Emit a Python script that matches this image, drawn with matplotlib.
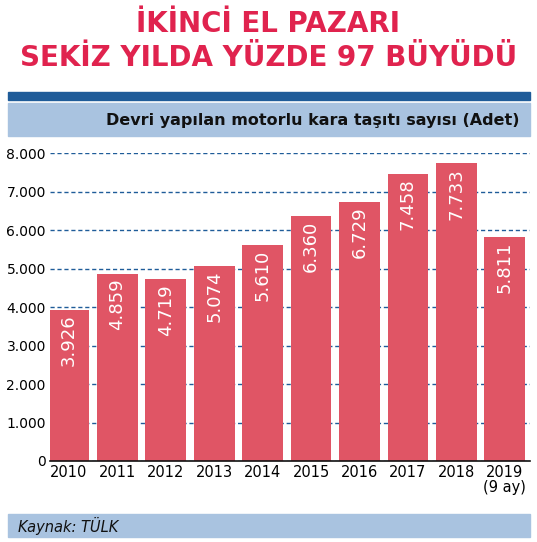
import matplotlib
matplotlib.use("Agg")
import matplotlib.pyplot as plt
from matplotlib.patches import Rectangle

years = ["2010", "2011", "2012", "2013", "2014", "2015", "2016", "2017", "2018", "2019\n(9 ay)"]
values = [3926, 4859, 4719, 5074, 5610, 6360, 6729, 7458, 7733, 5811]
labels = ["3.926", "4.859", "4.719", "5.074", "5.610", "6.360", "6.729", "7.458", "7.733", "5.811"]
yticks = [0, 1000, 2000, 3000, 4000, 5000, 6000, 7000, 8000]
ylabels = ["0", "1.000", "2.000", "3.000", "4.000", "5.000", "6.000", "7.000", "8.000"]

FAM = ["DejaVu Sans Condensed", "DejaVu Sans"]
plt.rcParams["font.family"] = FAM

fig = plt.figure(figsize=(5.37, 5.42), dpi=100)
W, H = 537, 542
def fy(y): return 1 - y / H

fig.text(0.5, fy(24), "İKİNCİ EL PAZARI", ha="center", va="center", color="#e0234e", fontsize=20, fontweight="bold")
fig.text(0.5, fy(58), "SEKİZ YILDA YÜZDE 97 BÜYÜDÜ", ha="center", va="center", color="#e0234e", fontsize=20, fontweight="bold")
fig.patches.append(Rectangle((8/W, fy(100)), 522/W, 8/H, transform=fig.transFigure, color="#1f5c99"))
fig.patches.append(Rectangle((8/W, fy(136)), 522/W, 33/H, transform=fig.transFigure, color="#a9c3e0"))
fig.text(520/W, fy(120), "Devri yapılan motorlu kara taşıtı sayısı (Adet)", ha="right", va="center", fontsize=11.5, fontweight="bold", color="#111111")
fig.patches.append(Rectangle((8/W, fy(537)), 522/W, 23/H, transform=fig.transFigure, color="#a9c3e0"))
fig.text(18/W, fy(526), "Kaynak: TÜLK", ha="left", va="center", fontsize=10.5, style="italic", color="#111111")

ax = fig.add_axes([50/W, 1 - 461/H, 480/W, 308/H])
x = list(range(len(values)))
ax.bar(x, values, width=0.84, color="#e05565", zorder=2)
for xi, v, l in zip(x, values, labels):
    ax.text(xi, v - 120, l, rotation=90, ha="center", va="top", color="white", fontsize=13)
ax.set_xlim(-0.39, 9.52)
ax.set_ylim(0, 8000)
ax.set_yticks(yticks)
ax.set_yticklabels(ylabels, fontsize=10)
ax.set_xticks(x)
ax.set_xticklabels(years, fontsize=10.5, linespacing=1.0)
ax.yaxis.grid(True, linestyle=(0, (3, 2)), color="#1f5c99", linewidth=1, zorder=0)
for s in ["top", "right", "left"]:
    ax.spines[s].set_visible(False)
ax.spines["bottom"].set_color("#111111")
ax.spines["bottom"].set_linewidth(1.2)
ax.tick_params(axis="both", length=0, pad=3)
ax.set_axisbelow(True)

fig.savefig("out.png", dpi=100)
